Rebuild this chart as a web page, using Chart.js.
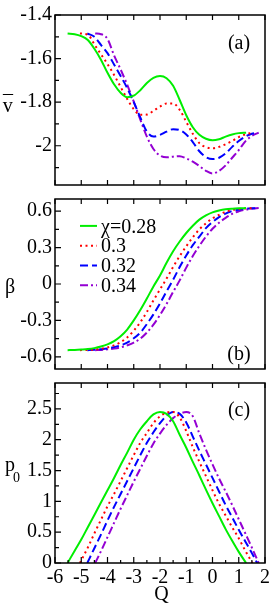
<!DOCTYPE html>
<html><head><meta charset="utf-8">
<script src="https://cdn.jsdelivr.net/npm/chart.js@4"></script>
<style>
html,body{margin:0;padding:0;background:#fff;}
#wrap{position:relative;width:273px;height:607px;overflow:hidden;background:#fff;}
canvas{position:absolute;left:0;}
</style></head><body>
<div id="wrap">
<canvas id="ca" width="273" height="200" style="top:0px"></canvas>
<canvas id="cb" width="273" height="200" style="top:184px"></canvas>
<canvas id="cc" width="273" height="239" style="top:368px"></canvas>
</div>
<script>
// ---- data ----
const chiLabels = ["χ=0.28", "0.3", "0.32", "0.34"];

const q28 = [-5.52,-5.25,-5,-4.75,-4.5,-4.25,-4,-3.75,-3.5,-3.25,-3,-2.75,-2.5,-2.25,-2,-1.75,-1.5,-1.25,-1,-0.75,-0.5,-0.25,0,0.25,0.5,0.75,1,1.28];
const v28 = [-1.485,-1.488,-1.497,-1.515,-1.555,-1.605,-1.665,-1.718,-1.757,-1.777,-1.770,-1.745,-1.712,-1.688,-1.680,-1.690,-1.725,-1.790,-1.860,-1.915,-1.950,-1.968,-1.975,-1.970,-1.958,-1.948,-1.942,-1.940];
const beta28 = [-0.545,-0.543,-0.540,-0.536,-0.528,-0.515,-0.497,-0.470,-0.430,-0.375,-0.300,-0.215,-0.120,-0.020,0.070,0.175,0.270,0.350,0.420,0.480,0.530,0.565,0.590,0.605,0.615,0.620,0.623,0.625];
const p28 = [0,0.2,0.38,0.58,0.78,0.98,1.18,1.38,1.59,1.79,2.0,2.17,2.3,2.41,2.45,2.42,2.3,2.08,1.87,1.64,1.42,1.19,0.97,0.76,0.55,0.36,0.18,0];

const q30 = [-5.05,-4.75,-4.5,-4.25,-4,-3.75,-3.5,-3.25,-3,-2.75,-2.5,-2.25,-2,-1.75,-1.5,-1.25,-1,-0.75,-0.5,-0.25,0,0.25,0.5,0.75,1,1.25,1.52];
const v30 = [-1.485,-1.49,-1.535,-1.58,-1.625,-1.675,-1.73,-1.785,-1.832,-1.858,-1.857,-1.84,-1.82,-1.806,-1.806,-1.835,-1.89,-1.945,-1.988,-2.006,-2.012,-2.005,-1.993,-1.978,-1.96,-1.948,-1.94];
const beta30 = [-0.545,-0.543,-0.54,-0.533,-0.522,-0.505,-0.48,-0.44,-0.385,-0.315,-0.23,-0.135,-0.045,0.045,0.14,0.23,0.31,0.385,0.45,0.5,0.54,0.57,0.595,0.61,0.618,0.622,0.625];
const p30 = [0,0.25,0.48,0.7,0.92,1.12,1.33,1.54,1.75,1.95,2.11,2.27,2.38,2.44,2.45,2.36,2.14,1.88,1.64,1.41,1.18,0.96,0.77,0.58,0.4,0.2,0];

const q32 = [-4.77,-4.5,-4.25,-4,-3.75,-3.5,-3.25,-3,-2.75,-2.5,-2.25,-2,-1.75,-1.5,-1.25,-1,-0.75,-0.5,-0.25,0,0.25,0.5,0.75,1,1.25,1.5,1.7];
const v32 = [-1.485,-1.5,-1.537,-1.575,-1.627,-1.68,-1.735,-1.8,-1.87,-1.935,-1.958,-1.95,-1.935,-1.924,-1.928,-1.948,-1.983,-2.025,-2.052,-2.061,-2.055,-2.035,-2.005,-1.978,-1.958,-1.945,-1.94];
const beta32 = [-0.545,-0.541,-0.537,-0.531,-0.52,-0.505,-0.482,-0.447,-0.4,-0.33,-0.25,-0.16,-0.06,0.035,0.14,0.235,0.32,0.39,0.46,0.51,0.55,0.58,0.6,0.612,0.62,0.623,0.625];
const p32 = [0,0.24,0.46,0.69,0.91,1.12,1.33,1.54,1.75,1.95,2.12,2.27,2.39,2.45,2.42,2.28,2.05,1.82,1.6,1.38,1.16,0.94,0.74,0.54,0.35,0.16,0];

const q34 = [-4.47,-4.25,-4,-3.75,-3.5,-3.25,-3,-2.75,-2.5,-2.25,-2,-1.75,-1.5,-1.25,-1,-0.75,-0.5,-0.25,0,0.25,0.5,0.75,1,1.25,1.5,1.76];
const v34 = [-1.485,-1.488,-1.51,-1.585,-1.65,-1.72,-1.797,-1.88,-1.958,-2.015,-2.045,-2.053,-2.05,-2.048,-2.058,-2.073,-2.093,-2.115,-2.127,-2.115,-2.09,-2.055,-2.02,-1.98,-1.955,-1.94];
const beta34 = [-0.545,-0.543,-0.538,-0.532,-0.522,-0.505,-0.483,-0.45,-0.4,-0.335,-0.255,-0.165,-0.065,0.03,0.135,0.23,0.315,0.39,0.455,0.505,0.545,0.578,0.598,0.612,0.62,0.625];
const p34 = [0,0.19,0.42,0.65,0.88,1.1,1.32,1.53,1.74,1.94,2.1,2.24,2.35,2.42,2.45,2.38,2.1,1.84,1.6,1.37,1.16,0.94,0.71,0.48,0.25,0];

// tick values
const qTicks = [-6,-5,-4,-3,-2,-1,0,1,2];
const qMinor = [-5.5,-4.5,-3.5,-2.5,-1.5,-0.5,0.5,1.5];
const vTicks = [-2,-1.8,-1.6,-1.4];
const vMinor = [-2.1,-1.9,-1.7,-1.5];
const betaTicks = [-0.6,-0.3,0,0.3,0.6];
const betaMinor = [-0.45,-0.15,0.15,0.45];
const pTicks = [0,0.5,1,1.5,2,2.5];
const pMinor = [0.25,0.75,1.25,1.75,2.25,2.75];

// ---- styles ----
const FAM = "'Liberation Serif', 'DejaVu Serif', serif";
const colors = ['#00ee00', '#ff0000', '#0000ff', '#9400d3'];
const dashes = [[], [2, 3.5], [8, 4], [8, 3, 2, 3]];

const pts = (qs, ys) => qs.map((q, i) => ({x: q, y: ys[i]}));
function sets(list) {
  return list.map((pair, i) => ({
    label: chiLabels[i],
    data: pts(pair[0], pair[1]),
    borderColor: colors[i],
    borderDash: dashes[i],
    borderWidth: 2,
    pointRadius: 0,
    fill: false,
    cubicInterpolationMode: 'monotone'
  }));
}

const deco = {
  id: 'deco',
  afterDraw(chart, args, o) {
    const ctx = chart.ctx, a = chart.chartArea, xs = chart.scales.x, ys = chart.scales.y;
    ctx.save();
    ctx.strokeStyle = '#000';
    ctx.lineWidth = 1.2;
    ctx.beginPath();
    o.yMajor.forEach(v => { const y = ys.getPixelForValue(v); ctx.moveTo(a.left, y); ctx.lineTo(a.left + 6, y); });
    o.yMinor.forEach(v => { const y = ys.getPixelForValue(v); ctx.moveTo(a.left, y); ctx.lineTo(a.left + 4, y); });
    qTicks.forEach(v => { const x = xs.getPixelForValue(v);
      ctx.moveTo(x, a.top); ctx.lineTo(x, a.top + 5);
      ctx.moveTo(x, a.bottom); ctx.lineTo(x, a.bottom - (o.bottomMinor ? 6 : 5)); });
    if (o.bottomMinor) qMinor.forEach(v => { const x = xs.getPixelForValue(v); ctx.moveTo(x, a.bottom); ctx.lineTo(x, a.bottom - 3); });
    ctx.stroke();
    ctx.lineWidth = 1.5;
    ctx.strokeRect(a.left, a.top, a.right - a.left, a.bottom - a.top);

    ctx.fillStyle = '#000';
    ctx.font = '20px ' + FAM;
    ctx.textBaseline = 'alphabetic';
    ctx.textAlign = 'center';
    ctx.fillText(o.panel, a.right - 26, a.top + o.panelBase);
    o.titles.forEach(t => {
      ctx.font = t.size + 'px ' + FAM;
      ctx.textAlign = t.align || 'center';
      ctx.fillText(t.text, t.x, t.y);
    });
    if (o.legend) {
      chart.data.datasets.forEach((ds, i) => {
        const yl = a.top + 26.9 + i * 19.8;
        ctx.save();
        ctx.strokeStyle = ds.borderColor;
        ctx.lineWidth = 2;
        ctx.setLineDash(ds.borderDash);
        ctx.beginPath();
        ctx.moveTo(a.left + 25, yl);
        ctx.lineTo(a.left + 42, yl);
        ctx.stroke();
        ctx.restore();
        ctx.font = '20px ' + FAM;
        ctx.textAlign = 'left';
        ctx.fillText(ds.label, a.left + 46, yl + 6.6);
      });
    }
    ctx.restore();
  }
};

function makeChart(id, datasets, yMin, yMax, yTicks, cfg) {
  return new Chart(document.getElementById(id), {
    type: 'line',
    data: {datasets},
    options: {
      responsive: false, animation: false, devicePixelRatio: 1,
      layout: {padding: {top: 10, bottom: cfg.padBottom, left: 0, right: 8}},
      plugins: {legend: {display: false}, tooltip: {enabled: false}, deco: cfg.deco},
      scales: {
        x: {
          type: 'linear', min: -6, max: 2, display: cfg.showX,
          grid: {display: false, drawTicks: false}, border: {display: false},
          afterBuildTicks: s => { s.ticks = qTicks.map(v => ({value: v})); },
          afterFit: s => { s.height = cfg.xH; },
          ticks: {font: {family: FAM, size: 20}, color: '#000', padding: 3, maxRotation: 0, autoSkip: false, callback: v => String(v)}
        },
        y: {
          type: 'linear', min: yMin, max: yMax,
          grid: {display: false, drawTicks: false}, border: {display: false},
          afterBuildTicks: s => { s.ticks = yTicks.map(v => ({value: v})); },
          afterFit: s => { s.width = 55; },
          ticks: {font: {family: FAM, size: 20}, color: '#000', padding: 3, autoSkip: false, callback: v => String(v)}
        }
      }
    },
    plugins: [deco]
  });
}

function drawAll() {
  makeChart('ca', sets([[q28, v28], [q30, v30], [q32, v32], [q34, v34]]), -2.18, -1.4, vTicks, {
    padBottom: 6, showX: false, xH: 0,
    deco: {yMajor: vTicks, yMinor: vMinor, bottomMinor: false, panel: '(a)', panelBase: 33.5, legend: false,
      titles: [{text: 'v', x: 7.8, y: 111.7, size: 20}, {text: '\u00AF', x: 8, y: 110, size: 20}]}
  });
  makeChart('cb', sets([[q28, beta28], [q30, beta30], [q32, beta32], [q34, beta34]]), -0.7, 0.7, betaTicks, {
    padBottom: 6, showX: false, xH: 0,
    deco: {yMajor: betaTicks, yMinor: betaMinor, bottomMinor: false, panel: '(b)', panelBase: 160.7, legend: true,
      titles: [{text: 'β', x: 10, y: 109, size: 20}]}
  });
  makeChart('cc', sets([[q28, p28], [q30, p30], [q32, p32], [q34, p34]]), 0, 2.92, pTicks, {
    padBottom: 0, showX: true, xH: 44,
    deco: {yMajor: pTicks, yMinor: pMinor, bottomMinor: true, panel: '(c)', panelBase: 33.4, legend: false,
      titles: [{text: 'p', x: 10, y: 103, size: 20}, {text: '0', x: 16.5, y: 114, size: 14},
               {text: 'Q', x: 161.5, y: 232, size: 20}]}
  });
}
if (document.fonts && document.fonts.load) {
  Promise.all([document.fonts.load("20px 'Liberation Serif'"), document.fonts.load("14px 'Liberation Serif'")])
    .then(drawAll, drawAll);
} else { drawAll(); }
</script>
</body></html>
